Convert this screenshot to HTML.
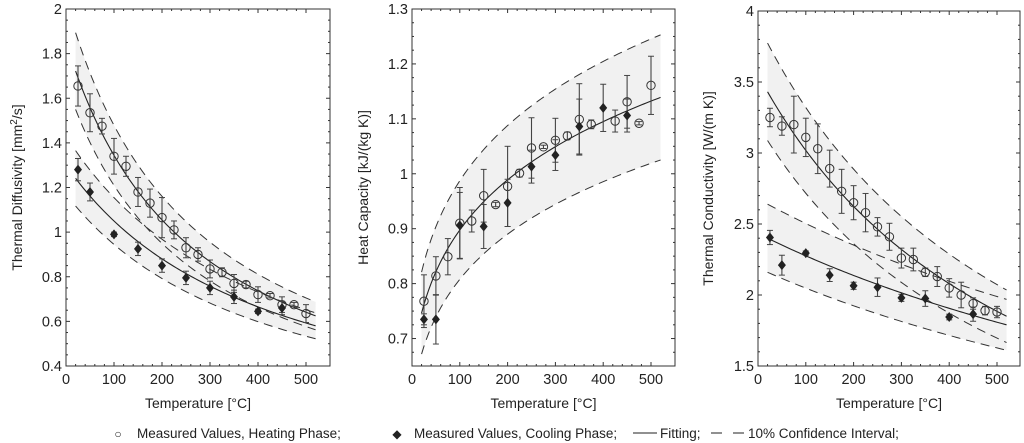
<!DOCTYPE html>
<html><head><meta charset="utf-8"><style>
body{margin:0;background:#fff;}
svg{display:block;font-family:"Liberation Sans",sans-serif;}
</style></head><body>
<svg id="s" width="1024" height="443" xmlns="http://www.w3.org/2000/svg">
<g font-size="13.5" fill="#222">
<text x="118" y="438" text-anchor="middle" font-size="12">○</text>
<text x="137" y="438">Measured Values, Heating Phase;</text>
<text x="397" y="438" text-anchor="middle" font-size="12">◆</text>
<text x="414" y="438">Measured Values, Cooling Phase;</text>
<line x1="633" y1="433" x2="657" y2="433" stroke="#222" stroke-width="1"/>
<text x="660" y="438">Fitting;</text>
<line x1="711" y1="433" x2="722" y2="433" stroke="#222"/>
<line x1="733" y1="433" x2="744" y2="433" stroke="#222"/>
<text x="748" y="438">10% Confidence Interval;</text>
</g>
</svg>
<script>
const NS="http://www.w3.org/2000/svg",S=document.getElementById('s');
function el(t,a,txt){const e=document.createElementNS(NS,t);for(const k in a)e.setAttribute(k,a[k]);if(txt!==undefined)e.textContent=txt;S.appendChild(e);return e;}
function panel(P){
 const X=t=>P.x0+t*(P.x500-P.x0)/500, Y=v=>P.yb+(v-P.ymin)*(P.yt-P.yb)/(P.ymax-P.ymin);
 for(const f of P.fits){
  let up=[],lo=[];
  for(let t=20;t<=520;t+=5){up.push(X(t)+','+Y(f(t)*1.1));lo.push(X(t)+','+Y(f(t)*0.9));}
  el('polygon',{points:up.concat(lo.reverse()).join(' '),fill:'#f1f1f1'});
 }
 for(const f of P.fits){
  for(const m of [1.1,0.9]){let p=[];for(let t=20;t<=520;t+=5)p.push(X(t)+','+Y(f(t)*m));
   el('polyline',{points:p.join(' '),fill:'none',stroke:'#333','stroke-width':1,'stroke-dasharray':'9,6'});}
  let p=[];for(let t=20;t<=520;t+=5)p.push(X(t)+','+Y(f(t)));
  el('polyline',{points:p.join(' '),fill:'none',stroke:'#222','stroke-width':1.1});
 }
 const eb=(t,v,e)=>{const x=X(t);el('line',{x1:x,x2:x,y1:Y(v-e),y2:Y(v+e),stroke:'#444','stroke-width':1.1});
   if(e>0.0001){el('line',{x1:x-3,x2:x+3,y1:Y(v-e),y2:Y(v-e),stroke:'#444'});el('line',{x1:x-3,x2:x+3,y1:Y(v+e),y2:Y(v+e),stroke:'#444'});}};
 for(const [t,v,e] of P.h){eb(t,v,e);el('circle',{cx:X(t),cy:Y(v),r:4.2,fill:'none',stroke:'#333','stroke-width':1});}
 for(const [t,v,e] of P.c){eb(t,v,e);const x=X(t),y=Y(v);el('polygon',{points:`${x},${y-5} ${x+4},${y} ${x},${y+5} ${x-4},${y}`,fill:'#222'});}
 el('rect',{x:P.L,y:P.yt0,width:P.R-P.L,height:P.B-P.yt0,fill:'none',stroke:'#333','stroke-width':1});
 for(let t=0;t<=500;t+=20){const x=X(t),len=t%100?2:4;el('line',{x1:x,x2:x,y1:P.B,y2:P.B-len,stroke:'#333'});el('line',{x1:x,x2:x,y1:P.yt0,y2:P.yt0+len,stroke:'#333'});}
 for(let t=0;t<=500;t+=100)el('text',{x:X(t),y:P.B+18,'text-anchor':'middle','font-size':14.5,fill:'#222'},String(t));
 for(let i=0;;i++){const v=P.ymin+i*P.minor;if(v>P.ymax+1e-9)break;const y=Y(v);const maj=Math.abs(Math.round(v/P.major)*P.major-v)<1e-6;const len=maj?4:2;
  el('line',{x1:P.L,x2:P.L+len,y1:y,y2:y,stroke:'#333'});el('line',{x1:P.R,x2:P.R-len,y1:y,y2:y,stroke:'#333'});}
 for(const [v,s] of P.labels)el('text',{x:P.L-4,y:Y(v)+5,'text-anchor':'end','font-size':14.5,fill:'#222'},s);
 el('text',{x:(P.L+P.R)/2,y:408,'text-anchor':'middle','font-size':14,fill:'#222'},'Temperature [°C]');
 const t=el('text',{x:0,y:0,'text-anchor':'middle','font-size':14,fill:'#222',transform:`translate(${P.yl},${(P.yt0+P.B)/2}) rotate(-90)`});
 t.innerHTML=P.ylab;
}
panel({x0:66,x500:306,L:66,R:330,yt0:9,B:366,yt:9,yb:366,ymin:0.4,ymax:2,minor:0.05,major:0.2,
 labels:[[0.4,'0.4'],[0.6,'0.6'],[0.8,'0.8'],[1,'1'],[1.2,'1.2'],[1.4,'1.4'],[1.6,'1.6'],[1.8,'1.8'],[2,'2']],
 yl:22,ylab:'Thermal Diffusivity [mm<tspan dy="-5" font-size="10">2</tspan><tspan dy="5">/s]</tspan>',
 fits:[t=>1/(0.540+0.00204*t),t=>1/(0.769+0.001836*t)],
 h:[[25,1.655,.09],[50,1.535,.085],[75,1.475,.035],[100,1.34,.08],[125,1.295,.045],[150,1.18,.065],[175,1.13,.063],[200,1.065,.09],[225,1.01,.04],[250,.93,.045],[275,.9,.03],[300,.835,.04],[325,.82,.02],[350,.77,.04],[375,.765,.015],[400,.72,.035],[425,.715,.01],[450,.675,.035],[475,.675,.01],[500,.635,.04]],
 c:[[25,1.28,.05],[50,1.18,.04],[100,.99,.01],[150,.925,.03],[200,.85,.03],[250,.795,.03],[300,.75,.03],[350,.71,.03],[400,.645,.01],[450,.66,.03]]});
panel({x0:412,x500:651,L:412,R:675,yt0:9,B:366,yt:9,yb:366,ymin:0.65,ymax:1.3,minor:0.025,major:0.1,
 labels:[[0.7,'0.7'],[0.8,'0.8'],[0.9,'0.9'],[1,'1'],[1.1,'1.1'],[1.2,'1.2'],[1.3,'1.3']],
 yl:368,ylab:'Heat Capacity [kJ/(kg K)]',
 fits:[t=>0.762*Math.pow((t+15)/40,0.155)],
 h:[[25,.768,.048],[50,.814,.035],[75,.849,.033],[100,.91,.065],[125,.914,.02],[150,.96,.048],[175,.944,.004],[200,.977,.073],[225,1.001,.007],[250,1.047,.055],[275,1.049,.003],[300,1.061,.04],[325,1.069,.007],[350,1.099,.065],[375,1.09,.008],[425,1.096,.02],[450,1.131,.048],[475,1.092,.003],[500,1.161,.053]],
 c:[[25,.735,.01],[50,.735,.045],[100,.906,.06],[150,.904,.04],[200,.947,.043],[250,1.013,.03],[300,1.034,.028],[350,1.086,.05],[400,1.12,.043],[450,1.106,.03]]});
panel({x0:758,x500:997,L:758,R:1020,yt0:11,B:366,yt:11,yb:366,ymin:1.5,ymax:4,minor:0.1,major:0.5,
 labels:[[1.5,'1.5'],[2,'2'],[2.5,'2.5'],[3,'3'],[3.5,'3.5'],[4,'4']],
 yl:713,ylab:'Thermal Conductivity [W/(m K)]',
 fits:[t=>1/(0.2815+0.000498*t),t=>1/(0.411+0.000284*t)],
 h:[[25,3.25,.065],[50,3.19,.065],[75,3.2,.2],[100,3.11,.135],[125,3.03,.175],[150,2.89,.13],[175,2.73,.155],[200,2.65,.12],[225,2.58,.135],[250,2.48,.065],[275,2.41,.095],[300,2.26,.07],[325,2.25,.08],[350,2.16,.03],[375,2.13,.07],[400,2.05,.065],[425,2.0,.09],[450,1.94,.04],[475,1.89,.03],[500,1.88,.04]],
 c:[[25,2.405,.05],[50,2.21,.07],[100,2.295,.015],[150,2.14,.045],[200,2.065,.025],[250,2.055,.065],[300,1.98,.025],[350,1.975,.055],[400,1.845,.02],[450,1.865,.05]]});
</script>
</body></html>
